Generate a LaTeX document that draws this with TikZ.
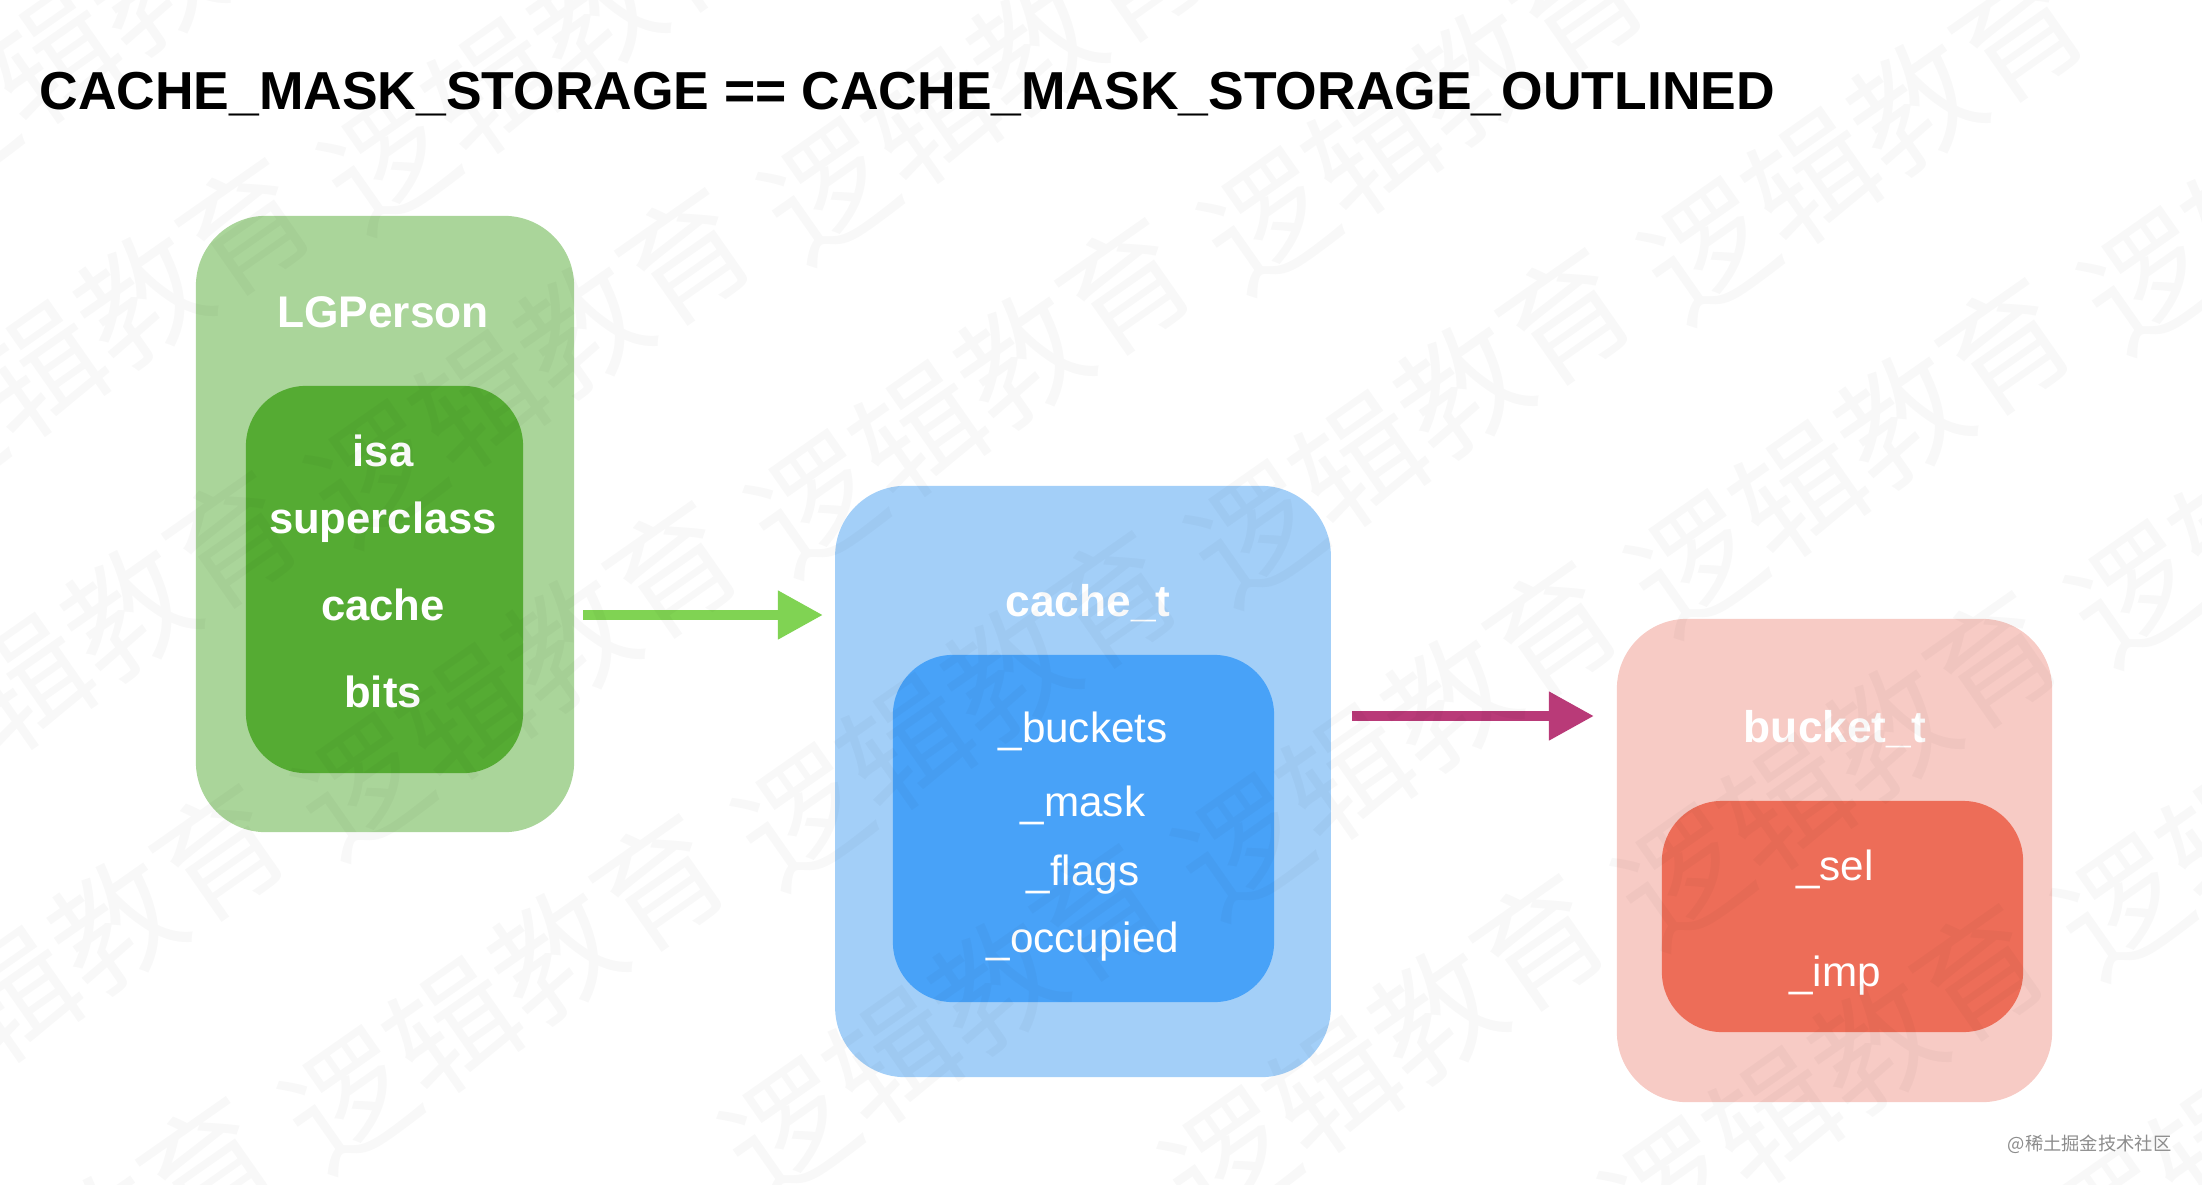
\documentclass[tikz,border=0pt]{standalone}
\usepackage{fontspec}
\setmainfont{Liberation Sans}
\newfontfamily\cjkfont{Noto Sans CJK SC}
\usetikzlibrary{arrows.meta,positioning}

\definecolor{personouter}{HTML}{AAD59A}
\definecolor{personinner}{HTML}{55AB33}
\definecolor{greenlink}{HTML}{80D353}
\definecolor{cacheouter}{HTML}{A3CFF8}
\definecolor{cacheinner}{HTML}{48A2F8}
\definecolor{bucketouter}{HTML}{F7CBC5}
\definecolor{bucketinner}{HTML}{ED6D58}
\definecolor{pinklink}{HTML}{B93A78}

\begin{document}
\begin{tikzpicture}[x=0.01cm,y=-0.01cm,
    outerbox/.style={rectangle,rounded corners=0.7cm,inner sep=0pt},
    innerbox/.style={rectangle,rounded corners=0.6cm,inner sep=0pt},
    boxtitle/.style={text=white,anchor=base,font=\bfseries\fontsize{12.6}{15}\selectfont},
    member/.style={text=white,anchor=base,font=\fontsize{12}{14}\selectfont},
    boldmember/.style={member,font=\bfseries\fontsize{12.4}{15}\selectfont},
    link/.style={line width=3pt,-{Triangle[length=0.45cm,width=0.46cm]}},
    wmark/.style={text=black,text opacity=0.028,rotate=35,inner sep=0pt,
        font=\cjkfont\fontsize{36}{36}\selectfont}]

    \useasboundingbox (0,0) rectangle (2202,1184);

    \node[anchor=base west,font=\bfseries\fontsize{15.2}{18}\selectfont] (heading) at (27,109)
        {CACHE\_MASK\_STORAGE == CACHE\_MASK\_STORAGE\_OUTLINED};

    % LGPerson
    \node[outerbox,fill=personouter,minimum width=3.78cm,minimum height=6.16cm] (person) at (385,524) {};
    \node[innerbox,fill=personinner,minimum width=2.77cm,minimum height=3.87cm] (personbody) at (384.5,579.5) {};
    \node[boxtitle] (persontitle) at (383,327) {LGPerson};
    \node[boldmember] (isa) at (383,466) {isa};
    \node[boldmember] (superclass) at (383,533) {superclass};
    \node[boldmember] (cachefield) at (383,620) {cache};
    \node[boldmember] (bits) at (383,707) {bits};

    % cache_t
    \node[outerbox,fill=cacheouter,minimum width=4.955cm,minimum height=5.91cm] (cache) at (1083,781.5) {};
    \node[innerbox,fill=cacheinner,minimum width=3.81cm,minimum height=3.47cm] (cachebody) at (1083.5,828.5) {};
    \node[boxtitle] (cachetitle) at (1088,616) {cache\_t};
    \node[member] (buckets) at (1083,742) {\_buckets};
    \node[member] (mask) at (1083,816) {\_mask};
    \node[member] (flags) at (1083,885) {\_flags};
    \node[member] (occupied) at (1083,952) {\_occupied};

    % bucket_t
    \node[outerbox,fill=bucketouter,minimum width=4.35cm,minimum height=4.83cm] (bucket) at (1834.5,860.5) {};
    \node[innerbox,fill=bucketinner,minimum width=3.61cm,minimum height=2.31cm] (bucketbody) at (1842.5,916.5) {};
    \node[boxtitle] (buckettitle) at (1835,742) {bucket\_t};
    \node[member] (sel) at (1835,880) {\_sel};
    \node[member] (imp) at (1835,986) {\_imp};

    % arrows
    \coordinate (greenfrom) at (583,615);
    \coordinate (greento) at (823,615);
    \coordinate (pinkfrom) at (1352,716);
    \coordinate (pinkto) at (1594,716);
    \draw[link,greenlink] (greenfrom) -- (greento);
    \draw[link,pinklink] (pinkfrom) -- (pinkto);

    % watermark
    \begin{scope}
        \clip (0,0) rectangle (2202,1184);
        \foreach \i in {-4,...,4}
            \foreach \j in {-6,...,6}{
                \pgfmathsetmacro\wx{1410+453*\i+440*\j}
                \pgfmathsetmacro\wy{425-283*\i+30*\j}
                \pgfmathparse{(\wx>-120)&&(\wx<2320)&&(\wy>-120)&&(\wy<1300)?1:0}
                \ifdim\pgfmathresult pt>0.5pt
                    \node[wmark] (wm\i\j) at (\wx,\wy) {逻辑教育};
                \fi
            }
    \end{scope}

    \node[anchor=east,text=black!45,inner sep=0pt,font=\cjkfont\fontsize{5.2}{6}\selectfont] (credit) at (2172,1144)
        {@稀土掘金技术社区};
\end{tikzpicture}
\end{document}
